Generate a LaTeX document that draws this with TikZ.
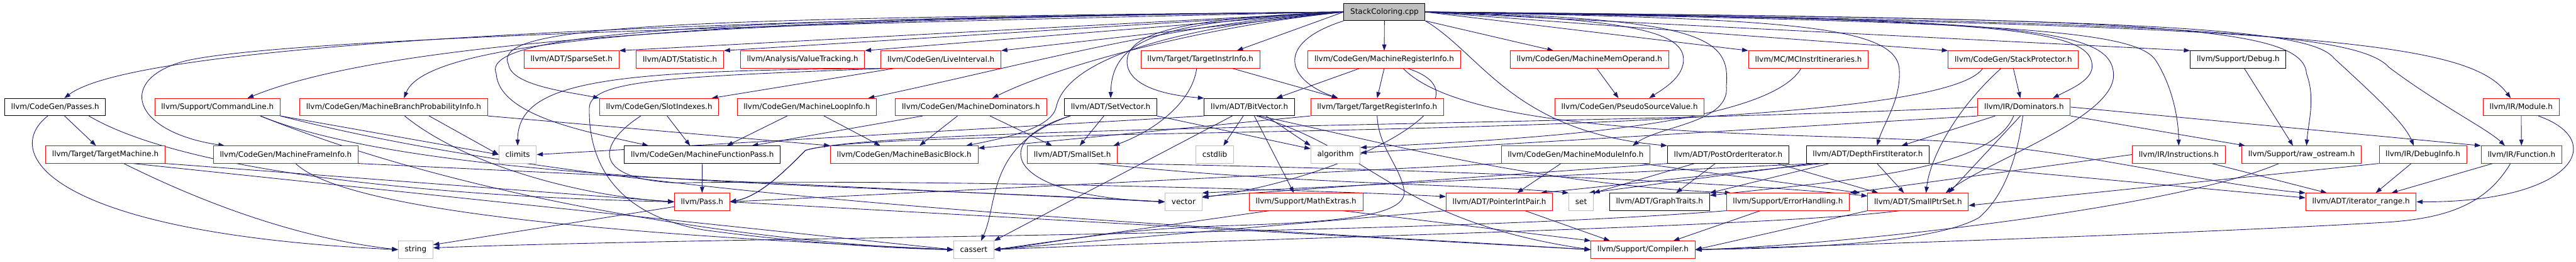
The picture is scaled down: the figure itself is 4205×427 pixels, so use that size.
\documentclass[tikz,border=0pt]{standalone}
\usepackage{fontspec}
\setmainfont{DejaVu Sans}
\usetikzlibrary{arrows.meta}
\definecolor{edgeblue}{HTML}{191970}
\definecolor{sysgray}{HTML}{BFBFBF}
\pgfdeclarelayer{edges}
\pgfsetlayers{edges,main}

\begin{document}
\begin{tikzpicture}[x=1pt, y=-1pt, >={Triangle[length=10pt, width=7pt]},
    hdr/.style={draw, line width=1pt, fill=white, minimum height=28pt,
      inner xsep=10.5pt, inner ysep=0pt, font=\fontsize{12.3}{14}\selectfont},
    redbox/.style={hdr, draw=red},
    blackbox/.style={hdr, draw=black},
    graybox/.style={hdr, draw=sysgray},
    rootbox/.style={hdr, draw=black, fill=sysgray},
    dep/.style={->, edgeblue, line width=0.9pt}]
  \useasboundingbox (0,0) rectangle (4205,427);

  % Source file
  \node[rootbox] (root) at (2260,19.5) {StackColoring.cpp};

  % Row 1
  \node[redbox] (sparse) at (933,97) {llvm/ADT/SparseSet.h};
  \node[redbox] (statistic) at (1110,97) {llvm/ADT/Statistic.h};
  \node[redbox] (valtrack) at (1310,97) {llvm/Analysis/ValueTracking.h};
  \node[redbox] (liveint) at (1536,97) {llvm/CodeGen/LiveInterval.h};
  \node[redbox] (tii) at (1959.5,97) {llvm/Target/TargetInstrInfo.h};
  \node[redbox] (mri) at (2259.5,97) {llvm/CodeGen/MachineRegisterInfo.h};
  \node[redbox] (mmo) at (2594.5,97) {llvm/CodeGen/MachineMemOperand.h};
  \node[redbox] (mcii) at (2952,97) {llvm/MC/MCInstrItineraries.h};
  \node[redbox] (sprot) at (3286.5,97) {llvm/CodeGen/StackProtector.h};
  \node[blackbox] (debug) at (3653.5,97) {llvm/Support/Debug.h};

  % Row 2
  \node[blackbox] (passes) at (90,174.5) {llvm/CodeGen/Passes.h};
  \node[redbox] (cmdline) at (355,174.5) {llvm/Support/CommandLine.h};
  \node[redbox] (mbpi) at (642.5,174.5) {llvm/CodeGen/MachineBranchProbabilityInfo.h};
  \node[redbox] (slotidx) at (1076,174.5) {llvm/CodeGen/SlotIndexes.h};
  \node[redbox] (mli) at (1317,174.5) {llvm/CodeGen/MachineLoopInfo.h};
  \node[redbox] (mdom) at (1585,174.5) {llvm/CodeGen/MachineDominators.h};
  \node[blackbox] (setvec) at (1813,174.5) {llvm/ADT/SetVector.h};
  \node[blackbox] (bitvec) at (2039.5,174.5) {llvm/ADT/BitVector.h};
  \node[redbox] (tri) at (2248,174.5) {llvm/Target/TargetRegisterInfo.h};
  \node[redbox] (psv) at (2660,174.5) {llvm/CodeGen/PseudoSourceValue.h};
  \node[redbox] (idom) at (3304,174.5) {llvm/IR/Dominators.h};
  \node[redbox] (module) at (4115.5,174.5) {llvm/IR/Module.h};

  % Row 3
  \node[redbox] (tm) at (172,252) {llvm/Target/TargetMachine.h};
  \node[redbox] (mfi) at (466.5,252) {llvm/CodeGen/MachineFrameInfo.h};
  \node[graybox] (climits) at (845,252) {climits};
  \node[blackbox] (mfp) at (1146.5,252) {llvm/CodeGen/MachineFunctionPass.h};
  \node[redbox] (mbb) at (1476,252) {llvm/CodeGen/MachineBasicBlock.h};
  \node[redbox] (smallset) at (1750.5,252) {llvm/ADT/SmallSet.h};
  \node[graybox] (cstdlib) at (1983,252) {cstdlib};
  \node[graybox] (algorithm) at (2180,252) {algorithm};
  \node[redbox] (mmi) at (2572,252) {llvm/CodeGen/MachineModuleInfo.h};
  \node[blackbox] (poi) at (2821,252) {llvm/ADT/PostOrderIterator.h};
  \node[blackbox] (dfi) at (3049,252) {llvm/ADT/DepthFirstIterator.h};
  \node[redbox] (instr) at (3556.5,252) {llvm/IR/Instructions.h};
  \node[redbox] (rawos) at (3757,252) {llvm/Support/raw\_ostream.h};
  \node[redbox] (dinfo) at (3955,252) {llvm/IR/DebugInfo.h};
  \node[redbox] (function) at (4116,252) {llvm/IR/Function.h};

  % Row 4
  \node[redbox] (pass) at (1146,329) {llvm/Pass.h};
  \node[graybox] (vector) at (1932,329) {vector};
  \node[redbox] (mathext) at (2132,329) {llvm/Support/MathExtras.h};
  \node[redbox] (pip) at (2447.5,329) {llvm/ADT/PointerIntPair.h};
  \node[graybox] (stlset) at (2581,329) {set};
  \node[blackbox] (graphtr) at (2709,329) {llvm/ADT/GraphTraits.h};
  \node[redbox] (errh) at (2918.5,329) {llvm/Support/ErrorHandling.h};
  \node[redbox] (sps) at (3131,329) {llvm/ADT/SmallPtrSet.h};
  \node[redbox] (itrange) at (3854,329) {llvm/ADT/iterator\_range.h};

  % Row 5
  \node[graybox] (stlstring) at (678.5,407) {string};
  \node[graybox] (cassert) at (1589.5,407) {cassert};
  \node[redbox] (compiler) at (2682,407) {llvm/Support/Compiler.h};

  \begin{pgfonlayer}{edges}
  % Direct includes
  \draw[dep] (root.west) -- (sparse.north east);
  \draw[dep] (root.west) -- (statistic.north east);
  \draw[dep] (root.west) -- (valtrack.north east);
  \draw[dep] (root.west) -- (liveint.north east);
  \draw[dep] (root.west) -- ([xshift=-38pt]tii.north east);
  \draw[dep] (root) -- (mri);
  \draw[dep] (root.south east) -- ([xshift=71pt]mmo.north west);
  \draw[dep] (root.east) -- (mcii.north west);
  \draw[dep] (root.east) -- (sprot.north west);
  \draw[dep] (root.east) -- (debug.north west);
  \draw[dep] (root.west) .. controls (1200,30) and (230,65) .. ([xshift=15pt]passes.north);
  \draw[dep] (root.west) .. controls (1300,30) and (650,60) .. ([xshift=49pt]cmdline.north);
  \draw[dep] (root.west) .. controls (1250,30) and (700,55) .. ([xshift=17pt]mbpi.north);
  \draw[dep] (root.west) .. controls (1000,45) and (420,70) .. (300,100)
    .. controls (190,130) and (215,215) .. ([xshift=-100pt]mfi.north);
  \draw[dep] (root.west) .. controls (1100,30) and (800,40) .. (830,105)
    .. controls (835,140) and (930,150) .. (slotidx.north west);
  \draw[dep] (root.west) .. controls (1200,30) and (780,50) .. (810,120)
    .. controls (815,190) and (960,215) .. ([xshift=-88pt]mfp.north);
  \draw[dep] (root.west) .. controls (1900,40) and (1700,100) .. ([xshift=-14pt]mli.north east);
  \draw[dep] (root.west) .. controls (1950,45) and (1720,110) .. ([xshift=35pt]mdom.north);
  \draw[dep] (root.west) .. controls (1900,45) and (1740,100) .. (1724,175)
    .. controls (1715,210) and (1640,225) .. ([xshift=-20pt]mbb.north east);
  \draw[dep] (root.west) .. controls (1900,35) and (1815,60) .. (setvec.north);
  \draw[dep] (root.west) .. controls (1900,30) and (1835,60) .. (1840,105)
    .. controls (1845,140) and (1900,155) .. (bitvec.north west);
  \draw[dep] (root.south west) .. controls (2080,70) and (2100,130) .. ([xshift=45pt]tri.north west);
  \draw[dep] (root.east) .. controls (2650,30) and (2745,50) .. (2748,95)
    .. controls (2750,125) and (2715,145) .. ([xshift=32pt]psv.north);
  \draw[dep] (root.east) .. controls (2780,30) and (2825,60) .. (2818,140)
    .. controls (2825,200) and (2710,205) .. ([xshift=93pt]mmi.north);
  \draw[dep] (root.south east) .. controls (2420,90) and (2470,215) .. (poi.north west);
  \draw[dep] (root.east) .. controls (2900,30) and (3090,40) .. (3100,110)
    .. controls (3105,160) and (3075,200) .. ([xshift=15pt]dfi.north);
  \draw[dep] (root.east) .. controls (3250,30) and (3410,45) .. (3415,105)
    .. controls (3418,130) and (3380,145) .. ([xshift=47pt]idom.north);
  \draw[dep] (root.east) .. controls (3300,30) and (3445,45) .. (3450,120)
    .. controls (3455,190) and (3250,260) .. ([xshift=45pt]sps.north);
  \draw[dep] (root.east) .. controls (3300,35) and (3490,50) .. (3520,100)
    .. controls (3545,140) and (3556,190) .. (instr.north);
  \draw[dep] (root.east) .. controls (3500,30) and (3760,40) .. (3765,120)
    .. controls (3780,160) and (3768,200) .. ([xshift=8pt]rawos.north);
  \draw[dep] (root.east) .. controls (3500,30) and (3770,45) .. (3810,95)
    .. controls (3870,150) and (3925,200) .. ([xshift=-15pt]dinfo.north);
  \draw[dep] (root.east) .. controls (3600,35) and (3850,55) .. (3900,110)
    .. controls (3980,170) and (4060,210) .. ([xshift=-27pt]function.north);
  \draw[dep] (root.east) .. controls (3800,40) and (4030,70) .. ([xshift=-17pt]module.north);

  % Passes.h, TargetMachine.h
  \draw[dep] (passes) -- (tm);
  \draw[dep] ([xshift=-12pt]passes.south) .. controls (0,250) and (80,380) .. (stlstring.west);
  \draw[dep] ([xshift=55pt]passes.south) .. controls (300,280) and (700,320) .. (pass.west);
  \draw[dep] ([xshift=30pt]tm.south) .. controls (350,340) and (500,390) .. (stlstring.west);
  \draw[dep] (tm.south east) -- (pass.west);
  \draw[dep] ([xshift=45pt]tm.south) -- (cassert.west);

  % CommandLine.h, MachineBranchProbabilityInfo.h, MachineFrameInfo.h
  \draw[dep] (cmdline.south east) -- (climits.west);
  \draw[dep] ([xshift=70pt]cmdline.south) .. controls (700,300) and (1400,300) .. (vector.west);
  \draw[dep] ([xshift=70pt]cmdline.south) .. controls (800,340) and (1300,400) .. (cassert.west);
  \draw[dep] (cmdline.south east) .. controls (1000,330) and (2000,370) .. (compiler.west);
  \draw[dep] ([xshift=58pt]mbpi.south) -- (climits.west);
  \draw[dep] (mbpi.south east) -- (mbb.north west);
  \draw[dep] ([xshift=18pt]mbpi.south) .. controls (760,270) and (950,320) .. (pass.west);
  \draw[dep] ([xshift=16pt]mfi.south) .. controls (580,360) and (1200,390) .. (cassert.west);
  \draw[dep] (mfi.south east) -- (vector.west);

  % LiveInterval.h, SlotIndexes.h, MachineLoopInfo.h, MachineDominators.h
  \draw[dep] ([xshift=-76pt]liveint.south) -- ([xshift=-12pt]slotidx.north east);
  \draw[dep] ([xshift=-90pt]liveint.south) .. controls (1000,115) and (845,130) .. (climits.north);
  \draw[dep] ([xshift=-90pt]liveint.south) .. controls (1100,125) and (965,130) .. (962,175)
    .. controls (960,260) and (1000,350) .. (1150,375)
    .. controls (1300,395) and (1450,405) .. (cassert.west);
  \draw[dep] ([xshift=-30pt]slotidx.south) .. controls (975,235) and (965,290) .. (1100,298)
    .. controls (1600,292) and (2200,312) .. ([yshift=-6pt]pip.north west);
  \draw[dep] ([xshift=13pt]slotidx.south) -- ([xshift=-20pt]mfp.north);
  \draw[dep] ([xshift=-32pt]mli.south) -- ([xshift=40pt]mfp.north);
  \draw[dep] ([xshift=28pt]mli.south) -- ([xshift=-39pt]mbb.north);
  \draw[dep] ([xshift=-79pt]mdom.south) -- ([xshift=81pt]mfp.north);
  \draw[dep] ([xshift=-22pt]mdom.south) -- ([xshift=25pt]mbb.north);
  \draw[dep] ([xshift=31pt]mdom.south) -- ([xshift=-33pt]smallset.north);

  % SetVector.h, BitVector.h
  \draw[dep] ([xshift=-11pt]setvec.south) -- ([xshift=12pt]smallset.north);
  \draw[dep] ([xshift=-66pt]setvec.south) .. controls (1610,230) and (1640,320) .. (vector.west);
  \draw[dep] ([xshift=-66pt]setvec.south) .. controls (1610,235) and (1630,330) .. ([xshift=12pt]cassert.north);
  \draw[dep] (setvec.south east) -- ([yshift=-5pt]algorithm.north west);
  \draw[dep] ([xshift=-10pt]bitvec.south) -- ([xshift=14pt]cstdlib.north);
  \draw[dep] ([xshift=-28pt]bitvec.south) -- (cassert.north east);
  \draw[dep] ([xshift=27pt]bitvec.south) -- (algorithm.north west);
  \draw[dep] (bitvec.south west) -- (climits.east);
  \draw[dep] ([xshift=8pt]bitvec.south) -- ([xshift=-20pt]mathext.north);
  \draw[dep] ([xshift=12pt]bitvec.south) .. controls (2250,250) and (2280,360) .. (compiler.west);
  \draw[dep] ([xshift=16pt]bitvec.south) .. controls (2250,230) and (2500,300) .. ([xshift=8pt]errh.north west);

  % TargetInstrInfo.h, MachineRegisterInfo.h, TargetRegisterInfo.h
  \draw[dep] ([xshift=-6pt]tii.south) .. controls (1945,170) and (1880,215) .. ([xshift=67pt]smallset.north);
  \draw[dep] ([xshift=52pt]tii.south) -- ([xshift=45pt]tri.north west);
  \draw[dep] ([xshift=-40pt]mri.south) -- ([xshift=44pt]bitvec.north);
  \draw[dep] (mri.south) -- (tri.north);
  \draw[dep] ([xshift=31pt]mri.south) .. controls (2400,225) and (2900,215) .. (3170,230)
    .. controls (3400,245) and (3600,300) .. (itrange.north west);
  \draw[dep] ([xshift=38pt]mri.south) .. controls (2450,160) and (2200,290) .. ([yshift=7pt]vector.east);
  \draw[dep] (tri.south west) -- ([yshift=-4pt]mbb.north east);
  \draw[dep] (tri.south) .. controls (2250,240) and (2285,270) .. (2292,310)
    .. controls (2298,350) and (2200,362) .. (2000,368)
    .. controls (1800,374) and (1700,400) .. (cassert.east);
  \draw[dep] ([xshift=12pt]mmo.south) -- ([xshift=-18pt]psv.north);

  % MachineModuleInfo.h, iterators
  \draw[dep] (mmi.south west) -- (pass.east);
  \draw[dep] ([xshift=-24pt]mmi.south) -- ([xshift=29pt]pip.north);
  \draw[dep] ([xshift=107pt]mmi.south) -- ([xshift=-12pt]sps.north west);
  \draw[dep] ([xshift=-55pt]poi.south) -- (stlset.north east);
  \draw[dep] ([xshift=-21pt]poi.south) -- ([xshift=27pt]graphtr.north);
  \draw[dep] ([xshift=80pt]poi.south) -- ([xshift=-65pt]sps.north);
  \draw[dep] (poi.south west) -- ([yshift=-6pt]vector.north east);
  \draw[dep] ([xshift=-90pt]dfi.south) -- (vector.north east);
  \draw[dep] ([xshift=-90pt]dfi.south) -- ([xshift=-8pt]stlset.north east);
  \draw[dep] ([xshift=-75pt]dfi.south) -- ([xshift=-20pt]pip.north east);
  \draw[dep] ([xshift=-63pt]dfi.south) -- (graphtr.north east);
  \draw[dep] ([xshift=15pt]dfi.south) -- ([xshift=-23pt]sps.north);
  \draw[dep] (dfi.south east) -- ([yshift=-8pt]itrange.north west);

  % Dominators.h, StackProtector.h, MCInstrItineraries.h, Debug.h
  \draw[dep] ([xshift=-47pt]idom.south) -- ([xshift=55pt]dfi.north);
  \draw[dep] ([xshift=-17pt]idom.south) .. controls (3250,280) and (3000,295) .. ([yshift=-4pt]graphtr.north east);
  \draw[dep] ([xshift=-6pt]idom.south) -- ([xshift=50pt]sps.north);
  \draw[dep] ([xshift=-2pt]idom.south) .. controls (3290,280) and (3260,330) .. (3230,355)
    .. controls (3150,400) and (2900,405) .. (compiler.east);
  \draw[dep] (idom.east) -- (function.north west);
  \draw[dep] (idom.south east) -- ([xshift=6pt]rawos.north west);
  \draw[dep] (idom.west) .. controls (2600,205) and (1450,205) .. (1315,245)
    .. controls (1280,280) and (1240,320) .. (pass.east);
  \draw[dep] (idom.south west) -- ([yshift=3pt]algorithm.east);
  \draw[dep] (sprot.south) -- ([xshift=-6pt]idom.north);
  \draw[dep] ([xshift=-20pt]sprot.south) .. controls (3190,180) and (3150,260) .. ([xshift=13pt]sps.north);
  \draw[dep] ([xshift=-50pt]sprot.south) .. controls (3150,240) and (1450,200) .. (1315,245)
    .. controls (1280,280) and (1240,320) .. (pass.east);
  \draw[dep] ([xshift=-12pt]mcii.south) .. controls (2880,215) and (2400,230) .. ([yshift=-3pt]algorithm.north east);
  \draw[dep] ([xshift=10pt]debug.south) -- ([xshift=-14pt]rawos.north);

  % IR headers
  \draw[dep] ([xshift=-37pt]rawos.south) .. controls (3550,340) and (3000,400) .. (compiler.east);
  \draw[dep] (module) -- (function);
  \draw[dep] ([xshift=28pt]module.south) .. controls (4260,230) and (4200,330) .. (itrange.east);
  \draw[dep] ([xshift=-47pt]function.south) -- ([xshift=-41pt]itrange.north east);
  \draw[dep] ([xshift=-18pt]function.south) .. controls (4060,330) and (4000,355) .. (3900,362)
    .. controls (3600,380) and (3000,400) .. (compiler.east);
  \draw[dep] ([xshift=-19pt]dinfo.south) -- ([xshift=24pt]itrange.north);
  \draw[dep] (dinfo.south west) -- ([yshift=-6pt]sps.east);
  \draw[dep] ([xshift=54pt]instr.south) -- ([xshift=35pt]itrange.north west);
  \draw[dep] (instr.west) -- (errh.north east);

  % Leaves
  \draw[dep] (smallset.south east) .. controls (2300,275) and (2800,295) .. ([yshift=-5pt]sps.north west);
  \draw[dep] ([xshift=40pt]smallset.south) .. controls (2100,300) and (2400,300) .. (stlset.north west);
  \draw[dep] ([yshift=-8pt]pass.west) -- ([yshift=8pt]stlstring.east);
  \draw[dep] (pass.east) -- (compiler.west);
  \draw[dep] (mfp) -- (pass);
  \draw[dep] ([xshift=60pt]mathext.south) -- (compiler.north west);
  \draw[dep] ([xshift=-60pt]mathext.south) -- (cassert.east);
  \draw[dep] ([xshift=42pt]pip.south) -- ([xshift=-54pt]compiler.north);
  \draw[dep] (pip.south west) -- (cassert.east);
  \draw[dep] (sps.south west) -- (compiler.east);
  \draw[dep] ([xshift=-30pt]sps.south) .. controls (2900,370) and (2000,390) .. (cassert.east);
  \draw[dep] ([xshift=-45pt]errh.south) -- ([xshift=-36pt]compiler.north east);
  \draw[dep] (errh.south west) .. controls (2300,385) and (1200,385) .. ([yshift=3pt]stlstring.east);
  \end{pgfonlayer}
\end{tikzpicture}
\end{document}
